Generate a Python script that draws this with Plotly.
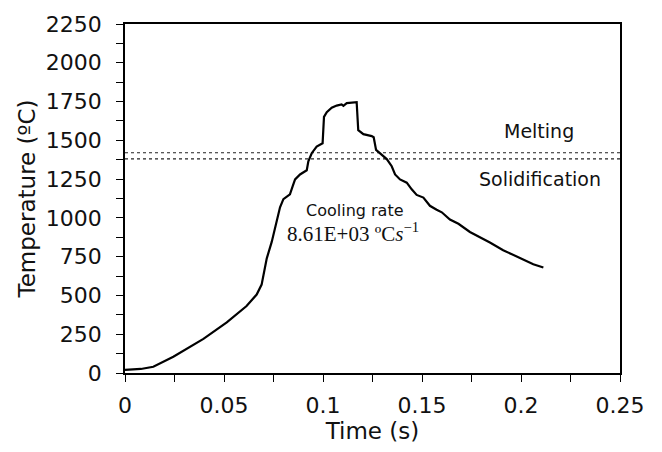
import plotly.graph_objects as go

# Thermal history of the measured point
time_s = [0, 0.004, 0.008, 0.0143, 0.0244, 0.0396, 0.0514, 0.0614, 0.0665,
          0.0690, 0.0705, 0.0716, 0.0741, 0.0766, 0.0783, 0.0800, 0.0833,
          0.0847, 0.0859, 0.0884, 0.0918, 0.0926, 0.0943, 0.0968, 0.0998,
          0.1005, 0.1019, 0.1044, 0.1069, 0.1094, 0.1103, 0.1120, 0.1170,
          0.1178, 0.1204, 0.1246, 0.1256, 0.1268, 0.1296, 0.1322, 0.1347,
          0.1364, 0.1389, 0.1423, 0.1448, 0.1473, 0.1507, 0.1540, 0.1574,
          0.1600, 0.1641, 0.1684, 0.1742, 0.1793, 0.1843, 0.1910, 0.1995,
          0.2062, 0.2113]
temp_c = [20, 21, 26, 40, 105, 220, 326, 432, 506,
          570, 660, 739, 845, 972, 1068, 1121, 1152,
          1205, 1248, 1280, 1307, 1364, 1417, 1460, 1481,
          1651, 1682, 1710, 1724, 1731, 1722, 1740, 1746,
          1566, 1540, 1527, 1520, 1438, 1407, 1379, 1333,
          1280, 1248, 1227, 1184, 1148, 1131, 1078, 1053,
          1036, 989, 962, 909, 877, 841, 792, 739,
          701, 680]

# Phase-change thresholds (ºC)
melting_temp = 1420
solidification_temp = 1380
x_span = [0, 0.25]

x_ticks = [0, 0.05, 0.1, 0.15, 0.2, 0.25]
x_tick_text = ["0", "0.05", "0.1", "0.15", "0.2", "0.25"]
y_ticks = [0, 250, 500, 750, 1000, 1250, 1500, 1750, 2000, 2250]

SANS = "DejaVu Sans"
INK = "#111111"

fig = go.Figure()

for level in (melting_temp, solidification_temp):
    fig.add_trace(go.Scatter(
        x=x_span, y=[level, level], mode="lines",
        line=dict(color="#222222", width=1.2, dash="dot"),
        hoverinfo="skip", showlegend=False))

fig.add_trace(go.Scatter(
    x=time_s, y=temp_c, mode="lines",
    line=dict(color="black", width=2.2),
    showlegend=False))

axis_common = dict(
    showline=True, linecolor="black", linewidth=1.6, mirror=True,
    showgrid=False, zeroline=False,
    ticks="outside", ticklen=7, tickwidth=1.4, tickcolor="black",
    tickfont=dict(family=SANS, size=22, color=INK),
)

fig.update_xaxes(
    range=x_span, tickvals=x_ticks, ticktext=x_tick_text,
    minor=dict(tickvals=[0.025, 0.075, 0.125, 0.175, 0.225],
               ticks="outside", ticklen=7, tickwidth=1.4, tickcolor="black"),
    ticklabelstandoff=5,
    title=dict(text="Time (s)", font=dict(family=SANS, size=23, color=INK),
               standoff=0),
    **axis_common)

fig.update_yaxes(
    range=[0, 2250], tickvals=y_ticks,
    minor=dict(dtick=125, ticks="outside", ticklen=7, tickwidth=1.4,
               tickcolor="black"),
    ticklabelstandoff=10,
    title=dict(text="Temperature (ºC)",
               font=dict(family=SANS, size=23, color=INK), standoff=4),
    **axis_common)

fig.add_annotation(x=0.2091, y=1557, text="Melting", showarrow=False,
                   font=dict(family=SANS, size=19, color=INK))
fig.add_annotation(x=0.2096, y=1252, text="Solidification", showarrow=False,
                   font=dict(family=SANS, size=19, color=INK))
fig.add_annotation(x=0.1162, y=1049, text="Cooling rate", showarrow=False,
                   font=dict(family=SANS, size=16, color=INK))
fig.add_annotation(x=0.1150, y=903,
                   text="8.61E+03 ºC<i>s</i><sup>−1</sup>", showarrow=False,
                   font=dict(family="Liberation Serif", size=21, color=INK))

fig.update_layout(
    width=662, height=452,
    margin=dict(l=125, r=42, t=19, b=79),
    paper_bgcolor="white", plot_bgcolor="white",
)

fig.write_html("out.html")
